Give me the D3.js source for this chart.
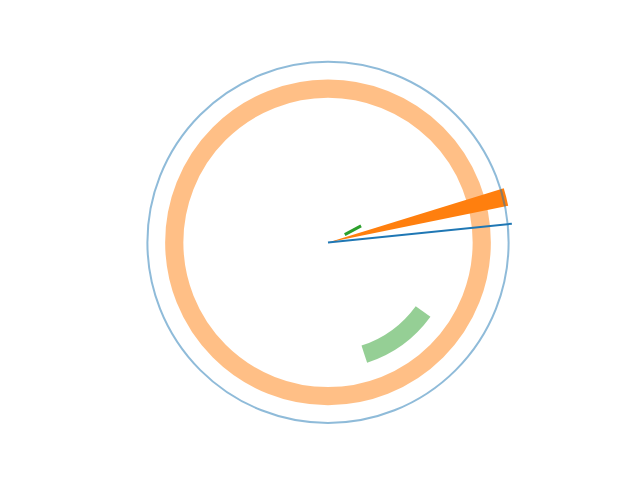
<!DOCTYPE html>
<html><head><meta charset="utf-8">
<script src="https://cdn.jsdelivr.net/npm/d3@7"></script>
<style>html,body{margin:0;padding:0;background:#fff;}</style>
</head><body>
<script>
// Data (polar: theta in degrees, counter-clockwise from east; r in data units)
const rMax = 1.0;
const circleR = [0.977];                 // blue full circle
const ringR = [0.832];                   // orange full ring
const arcThetaRange = [-72, -36];        // green arc angular span
const arcR = [0.636];                    // green arc radius
const lineTheta = [5.8, 5.8];            // blue ray
const lineR = [0, 1.0];
const barTheta = [14.3];                 // orange bar center angle
const barWidth = [5.6];                  // orange bar angular width
const barHeight = [0.995];
const segTheta = [25, 26.5];             // short green segment
const segR = [0.10, 0.20];

const W = 640, H = 480;
const cx = 328, cy = 242.4, R = 184.8;
const svg = d3.select("body").append("svg").attr("width", W).attr("height", H);
const g = svg.append("g").attr("transform", `translate(${cx},${cy})`);
const r = d3.scaleLinear().domain([0, rMax]).range([0, R]);
const ang = d => (90 - d) * Math.PI / 180; // to d3 angle

// orange ring
g.append("path")
  .attr("d", d3.arc()({innerRadius: r(ringR[0]), outerRadius: r(ringR[0]), startAngle: 0, endAngle: 2*Math.PI}))
  .attr("fill", "none").attr("stroke", "#ff7f0e").attr("stroke-opacity", 0.5).attr("stroke-width", 18.2);

// green arc
g.append("path")
  .attr("d", d3.arc()({innerRadius: r(arcR[0]), outerRadius: r(arcR[0]), startAngle: ang(arcThetaRange[1]), endAngle: ang(arcThetaRange[0])}))
  .attr("fill", "none").attr("stroke", "#2ca02c").attr("stroke-opacity", 0.5).attr("stroke-width", 18.2);

// orange bar
g.append("path")
  .attr("d", d3.arc()({innerRadius: 0, outerRadius: r(barHeight[0]),
     startAngle: ang(barTheta[0] + barWidth[0]/2), endAngle: ang(barTheta[0] - barWidth[0]/2)}))
  .attr("fill", "#ff7f0e");

// blue circle
g.append("path")
  .attr("d", d3.arc()({innerRadius: r(circleR[0]), outerRadius: r(circleR[0]), startAngle: 0, endAngle: 2*Math.PI}))
  .attr("fill", "none").attr("stroke", "#1f77b4").attr("stroke-opacity", 0.5).attr("stroke-width", 2);

const radial = d3.lineRadial().angle(d => ang(d[0])).radius(d => r(d[1]));
// blue ray
g.append("path").attr("d", radial(lineTheta.map((t,i)=>[t, lineR[i]])))
  .attr("fill","none").attr("stroke","#1f77b4").attr("stroke-width",2);
// green segment
g.append("path").attr("d", radial(segTheta.map((t,i)=>[t, segR[i]])))
  .attr("fill","none").attr("stroke","#2ca02c").attr("stroke-width",3);
</script>
</body></html>
